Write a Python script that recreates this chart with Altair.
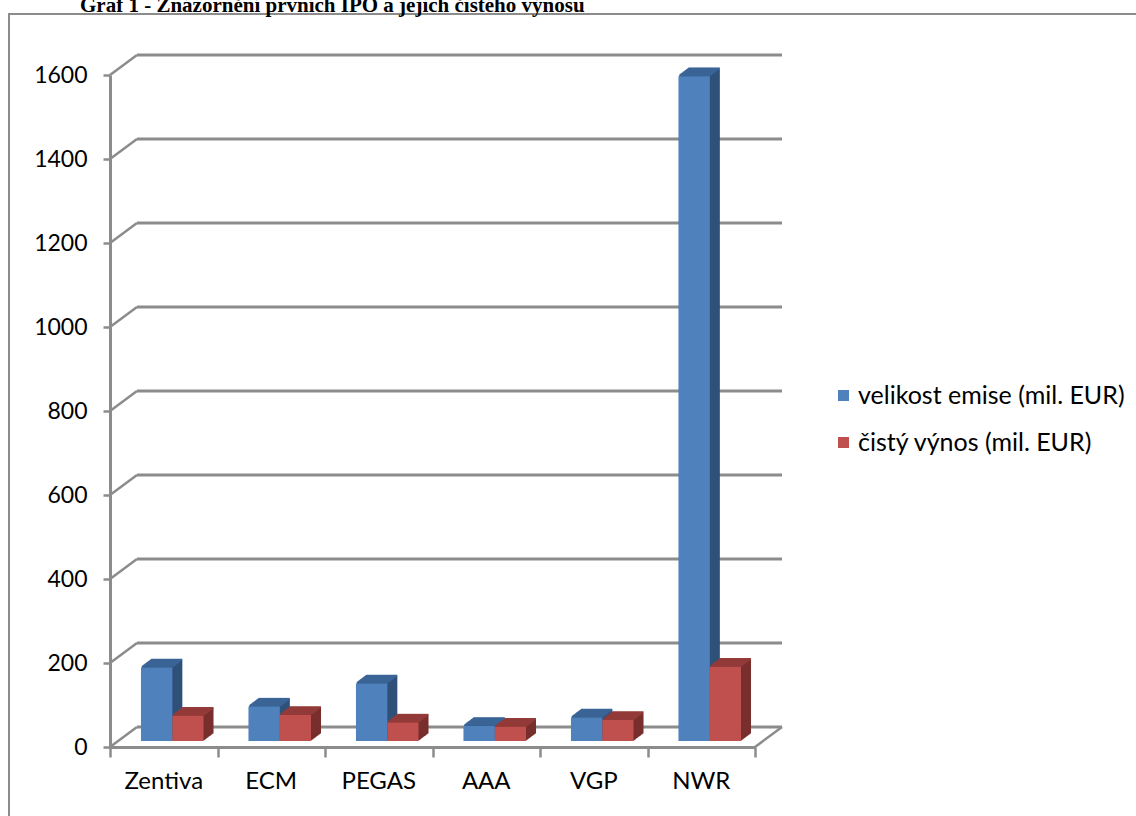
import altair as alt
import pandas as pd

# ---- data ----
categories = ["Zentiva", "ECM", "PEGAS", "AAA", "VGP", "NWR"]
emise = [175, 82, 137, 36, 56, 1583]
vynos = [60, 62, 44, 34, 50, 177]
series_names = ["velikost emise (mil. EUR)", "čistý výnos (mil. EUR)"]
y_ticks = [0, 200, 400, 600, 800, 1000, 1200, 1400, 1600]
title_text = "Graf 1 - Znázornění prvních IPO a jejich čistého výnosu"

rows = []
for i, c in enumerate(categories):
    rows.append({"category": c, "idx": i, "s": 0, "series": series_names[0], "value": emise[i]})
    rows.append({"category": c, "idx": i, "s": 1, "series": series_names[1], "value": vynos[i]})
df = pd.DataFrame(rows)
cat_df = pd.DataFrame({"category": categories, "idx": list(range(len(categories)))})
tick_df = pd.DataFrame({"v": y_ticks})

# ---- style ----
W, H = 645, 672
FONT = "Lato"
GRAY = "#8C8C8C"
BASE = -6          # bar depth offset (pixels)
DX, DY = 10, 7.5   # bar extrusion
WX, WY = 27, 20    # wall depth
N = 12
front = ["#4F81BD", "#C0504D"]
top = ["#3B6496", "#933B39"]
side = ["#2E5079", "#772E2C"]

xs = alt.Scale(domain=[0, 6], nice=False, zero=False)
ys = alt.Scale(domain=[0, 1600], nice=False)
xaxis = alt.Axis(values=[0, 1, 2, 3, 4, 5, 6], grid=False, labels=False, title=None,
                 domainColor=GRAY, domainWidth=3, tickColor=GRAY, tickWidth=2.5, tickSize=10)
yaxis = alt.Axis(values=y_ticks, grid=False, title=None, domainColor=GRAY, domainWidth=3,
                 tickColor=GRAY, tickWidth=2.5, tickSize=7, labelFont=FONT, labelFontSize=23,
                 labelColor="black", labelPadding=16, format="d")


def X(f):
    return alt.X(f, type="quantitative", scale=xs, axis=xaxis)


def Y(f):
    return alt.Y(f, type="quantitative", scale=ys, axis=yaxis, stack=None)


layers = []

# outer frame of the chart object (right and bottom edges lie beyond the page)
layers.append(
    alt.Chart(cat_df).transform_filter(alt.datum.idx == 0).mark_rect(
        fill=None, stroke=GRAY, strokeWidth=2).encode(
        x=alt.value(-101), x2=alt.value(W + 400), y=alt.value(-61), y2=alt.value(H + 100)
    )
)

# cut-off document caption
layers.append(
    alt.Chart(cat_df).transform_filter(alt.datum.idx == 0).mark_text(
        text=title_text, font="Liberation Serif", fontWeight="bold", fontSize=21,
        align="left", baseline="alphabetic", color="black"
    ).encode(x=alt.value(-30), y=alt.value(-63))
)

# back wall gridlines
layers.append(
    alt.Chart(tick_df).mark_rule(color=GRAY, strokeWidth=3, xOffset=WX, x2Offset=WX, yOffset=-WY).encode(
        x=alt.X(datum=0, type="quantitative", scale=xs, axis=xaxis),
        x2=alt.X2(datum=6),
        y=Y("v"),
    )
)
# side wall diagonals
layers.append(
    alt.Chart(tick_df).mark_rule(color=GRAY, strokeWidth=2.5, x2Offset=WX, y2Offset=-WY).encode(
        x=alt.X(datum=0, type="quantitative", scale=xs, axis=xaxis),
        x2=alt.X2(datum=0),
        y=Y("v"),
        y2=alt.Y2("v"),
    )
)
# right floor diagonal
layers.append(
    alt.Chart(tick_df).transform_filter(alt.datum.v == 0).mark_rule(
        color=GRAY, strokeWidth=2.5, x2Offset=WX, y2Offset=-WY).encode(
        x=alt.X(datum=6, type="quantitative", scale=xs, axis=xaxis),
        x2=alt.X2(datum=6),
        y=Y("v"),
        y2=alt.Y2("v"),
    )
)

color_scale = alt.Scale(domain=series_names, range=front)
legend = alt.Legend(orient="none", legendX=721, legendY=308, title=None, symbolType="square",
                    symbolSize=121, symbolStrokeWidth=0, labelFont=FONT, labelFontSize=25,
                    labelColor="black", labelOffset=2, rowPadding=21, labelLimit=400)

for s in (0, 1):
    base = alt.Chart(df).transform_filter(alt.datum.s == s).transform_calculate(
        x0=f"datum.idx + {0.288 if s == 0 else 0.580}",
        x1=f"datum.idx + {0.580 if s == 0 else 0.870}",
    )
    # side (extrusion)
    for k in range(1, N + 1):
        ox, oy = k * DX / N, BASE - k * DY / N
        layers.append(
            base.mark_bar(color=side[s], xOffset=ox, x2Offset=ox, yOffset=oy, y2Offset=oy).encode(
                x=X("x0"), x2="x1:Q", y=Y("value"), y2=alt.Y2(datum=0)
            )
        )
    # top face
    for k in range(1, N + 1):
        ox, oy = k * DX / N, BASE - k * DY / N
        layers.append(
            base.mark_bar(color=top[s], xOffset=ox, x2Offset=ox, yOffset=oy - 1.2, y2Offset=oy + 0.6).encode(
                x=X("x0"), x2="x1:Q", y=Y("value"), y2=alt.Y2("value:Q")
            )
        )
    # front face
    layers.append(
        base.mark_bar(yOffset=BASE, y2Offset=BASE).encode(
            x=X("x0"), x2="x1:Q", y=Y("value"), y2=alt.Y2(datum=0),
            color=alt.Color("series:N", scale=color_scale, legend=legend),
        )
    )

# category labels
layers.append(
    alt.Chart(cat_df).transform_calculate(xc="datum.idx + 0.5").mark_text(
        font=FONT, fontSize=24, color="black", baseline="middle", align="center"
    ).encode(x=X("xc"), y=alt.value(H + 35), text="category:N")
)

chart = alt.layer(*layers).properties(
    width=W, height=H,
    background="white",
    autosize=alt.AutoSizeParams(type="none"),
    padding={"left": 110, "top": 75, "right": 381, "bottom": 69},
).configure_view(stroke=None)

chart.save("out.html", embed_options={"renderer": "svg", "actions": False})
